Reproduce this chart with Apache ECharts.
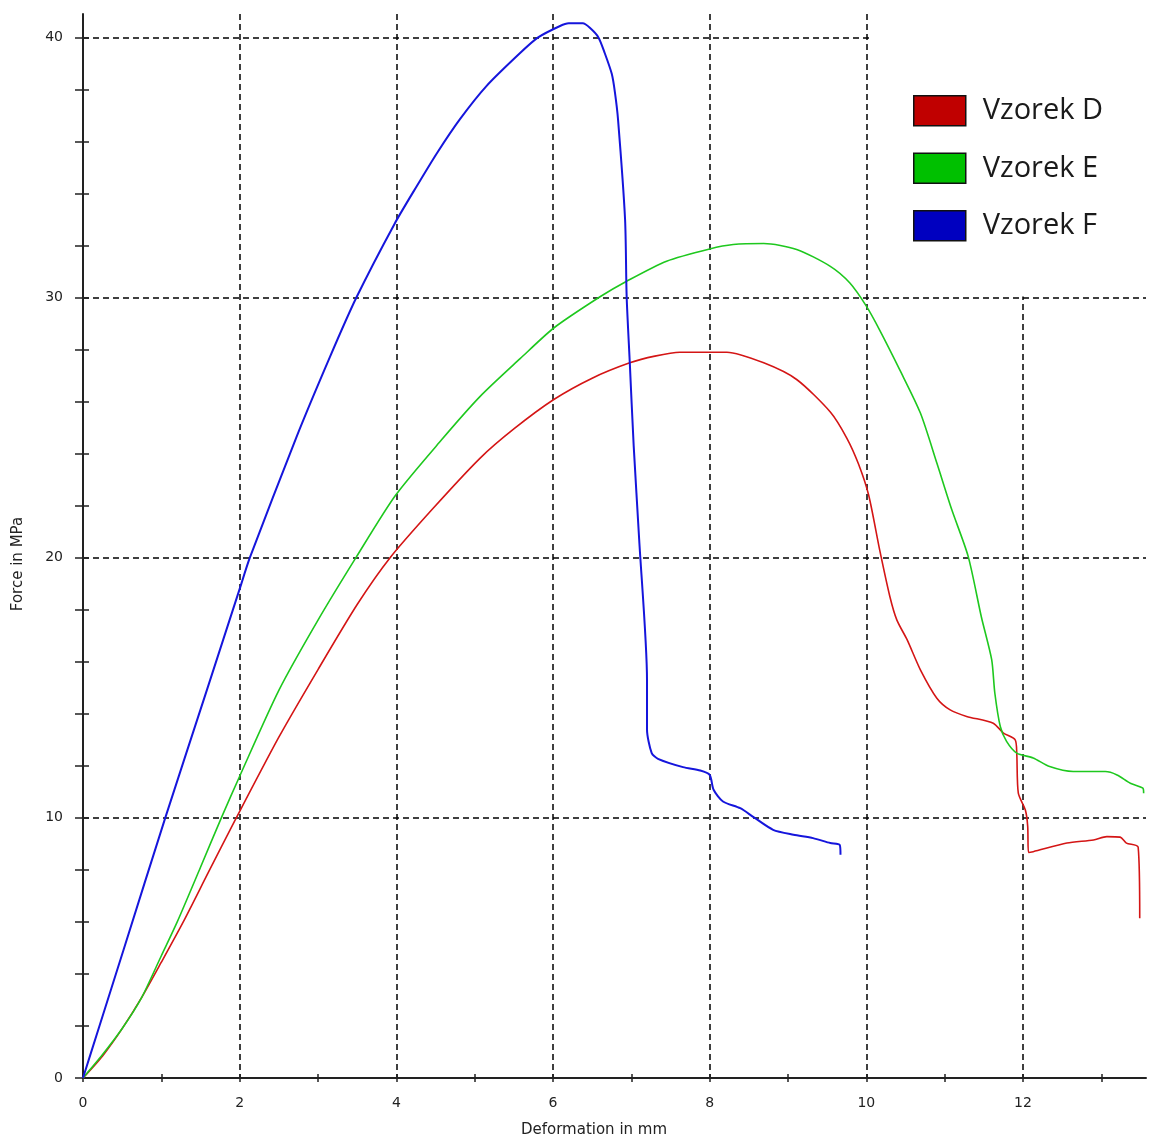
<!DOCTYPE html>
<html><head><meta charset="utf-8">
<script src="https://cdn.jsdelivr.net/npm/echarts@6/dist/echarts.min.js"></script>
<style>html,body{margin:0;padding:0;background:#fff}#c{width:1166px;height:1140px}</style>
</head><body><div id="c"></div>
<script>
const seriesNames = ['Vzorek D', 'Vzorek E', 'Vzorek F'];
const xAxisTitle = 'Deformation in mm';
const yAxisTitle = 'Force in MPa';
const xMax = 13.57;
const yMax = 40.9;
const xTickMax = 13;
const yTickMax = 40;

const vzorekD = [[0,0],[0.25,0.85],[0.5,1.9],[0.75,3.1],[1.0,4.45],[1.28,6.0],[1.6,7.9],[1.94,9.9],[2.5,13.1],[3.0,15.7],[3.5,18.2],[3.92,20.0],[4.47,21.9],[5.07,23.83],[5.5,24.95],[6.01,26.08],[6.5,26.9],[6.98,27.49],[7.3,27.75],[7.62,27.9],[8.22,27.9],[8.69,27.49],[9.11,26.85],[9.54,25.6],[9.75,24.6],[9.9,23.6],[10.03,22.4],[10.17,20.3],[10.3,18.51],[10.39,17.6],[10.52,16.85],[10.69,15.69],[10.9,14.6],[11.07,14.15],[11.28,13.9],[11.62,13.64],[11.75,13.26],[11.9,13.0],[11.92,12.49],[11.94,10.95],[12.03,10.3],[12.06,9.67],[12.07,8.67],[12.13,8.7],[12.56,9.03],[12.9,9.15],[13.07,9.28],[13.24,9.26],[13.32,9.03],[13.47,8.87],[13.49,6.14]];

const vzorekE = [[0,0],[0.25,0.9],[0.5,1.9],[0.75,3.1],[1.0,4.7],[1.2,5.98],[1.5,8.1],[1.77,10.03],[2.0,11.6],[2.5,14.9],[3.0,17.6],[3.49,20.03],[3.99,22.4],[4.58,24.54],[5.07,26.2],[5.58,27.65],[6.01,28.83],[6.6,30.03],[6.94,30.63],[7.45,31.4],[8.0,31.87],[8.3,32.04],[8.69,32.08],[9.11,31.85],[9.54,31.2],[9.79,30.56],[10.0,29.67],[10.17,28.75],[10.43,27.2],[10.69,25.56],[10.9,23.64],[11.09,21.85],[11.3,20.05],[11.47,17.7],[11.6,16.08],[11.64,14.8],[11.71,13.51],[11.79,12.94],[11.92,12.49],[12.13,12.3],[12.34,11.97],[12.64,11.78],[13.05,11.78],[13.2,11.65],[13.37,11.33],[13.53,11.14],[13.54,10.95]];

const vzorekF = [[0,0],[0.21,2.0],[0.515,4.9],[1.05,10.0],[1.58,14.9],[2.0,18.8],[2.13,20.0],[2.72,24.6],[3.15,27.7],[3.49,30.0],[3.98,32.85],[4.26,34.28],[4.52,35.56],[4.81,36.85],[5.15,38.13],[5.58,39.4],[5.81,40.0],[6.09,40.44],[6.2,40.54],[6.38,40.54],[6.47,40.37],[6.58,40.0],[6.66,39.4],[6.75,38.6],[6.79,37.9],[6.83,36.85],[6.92,33.0],[6.94,30.05],[6.98,27.5],[7.03,24.3],[7.10,20.7],[7.20,15.3],[7.20,13.4],[7.26,12.49],[7.34,12.27],[7.66,11.95],[7.88,11.82],[8.0,11.65],[8.05,11.08],[8.17,10.63],[8.39,10.37],[8.56,10.03],[8.81,9.54],[9.07,9.35],[9.32,9.22],[9.54,9.03],[9.66,8.96],[9.67,8.58]];

const lineColors = ['#d41515', '#1ec81e', '#1515dc'];
const legendColors = ['#c00000', '#00c000', '#0000c0'];

const chart = echarts.init(document.getElementById('c'), null, {renderer: 'canvas'});

const G = {left: 83, top: 14, right: 20, bottom: 62};
const plotW = 1166 - G.left - G.right;
const plotH = 1140 - G.top - G.bottom;
const grid2 = {
  left: G.left,
  bottom: G.bottom,
  width: plotW * xTickMax / xMax,
  height: plotH * yTickMax / yMax
};

const axisFont = 'DejaVu Sans';
const gridLine = {type: [6, 4], color: '#000', width: 1.5};
const tickStyle = {color: '#222', width: 1.5};

function tickAxis(base, inside, len) {
  return Object.assign({
    type: 'value', gridIndex: 1,
    axisLine: {show: false},
    axisLabel: {show: false},
    splitLine: {show: false},
    axisTick: {show: true, inside: inside, length: len, lineStyle: tickStyle}
  }, base);
}

chart.setOption({
  animation: false,
  backgroundColor: '#fff',
  grid: [
    {left: G.left, top: G.top, right: G.right, bottom: G.bottom, containLabel: false},
    {left: grid2.left, bottom: grid2.bottom, width: grid2.width, height: grid2.height, containLabel: false}
  ],
  xAxis: [
    {
      type: 'value', gridIndex: 0, position: 'bottom', min: 0, max: xMax, interval: 2,
      axisLine: {show: true, onZero: false, lineStyle: {color: '#222', width: 2}},
      axisTick: {show: false},
      axisLabel: {
        showMaxLabel: false, margin: 18, fontFamily: axisFont, fontSize: 14, color: '#222',
        formatter: v => (Math.abs(v % 2) < 1e-9 ? String(v) : '')
      },
      splitLine: {show: true, showMinLine: false, showMaxLine: false, lineStyle: gridLine}
    },
    tickAxis({position: 'bottom', min: 0, max: xTickMax, interval: 1}, false, 4),
    tickAxis({position: 'bottom', min: 0, max: xTickMax, interval: 1}, true, 4)
  ],
  yAxis: [
    {
      type: 'value', gridIndex: 0, position: 'left', min: 0, max: yMax, interval: 10,
      axisLine: {show: true, onZero: false, lineStyle: {color: '#222', width: 2}},
      axisTick: {show: false},
      axisLabel: {
        showMaxLabel: false, margin: 20, fontFamily: axisFont, fontSize: 14, color: '#222',
        formatter: v => (Math.abs(v % 10) < 1e-9 ? String(v) : '')
      },
      splitLine: {show: true, showMinLine: false, showMaxLine: false, lineStyle: gridLine}
    },
    tickAxis({position: 'left', min: 0, max: yTickMax, interval: 2}, false, 8),
    tickAxis({position: 'left', min: 0, max: yTickMax, interval: 2}, true, 6)
  ],
  legend: {
    orient: 'vertical', left: 869, top: 0,
    padding: [95, 90, 55, 44],
    backgroundColor: '#fff',
    itemWidth: 52, itemHeight: 30, itemGap: 26,
    icon: 'rect', selectedMode: false, z: 10,
    textStyle: {fontFamily: 'Open Sans', fontSize: 29, color: '#1a1a1a', padding: [0, 0, 0, 12]},
    data: seriesNames.map((n, i) => ({
      name: n, icon: 'rect',
      itemStyle: {color: legendColors[i], borderColor: '#111', borderWidth: 1.5}
    }))
  },
  graphic: [
    {type: 'text', x: 18, y: 564, rotation: Math.PI / 2, z: 20,
     style: {text: yAxisTitle, fontFamily: axisFont, fontSize: 15, fill: '#222', align: 'center', verticalAlign: 'middle'}},
    {type: 'text', x: 594, y: 1130, z: 20,
     style: {text: xAxisTitle, fontFamily: axisFont, fontSize: 15, fill: '#222', align: 'center', verticalAlign: 'middle'}}
  ],
  series: [vzorekD, vzorekE, vzorekF].map((d, i) => ({
    name: seriesNames[i], type: 'line', xAxisIndex: 0, yAxisIndex: 0,
    data: d, showSymbol: false, symbol: 'none',
    smooth: 0.25,
    lineStyle: {color: lineColors[i], width: i === 2 ? 2 : 1.6},
    itemStyle: {color: lineColors[i]},
    z: 2 + i
  }))
});
</script>
</body></html>
